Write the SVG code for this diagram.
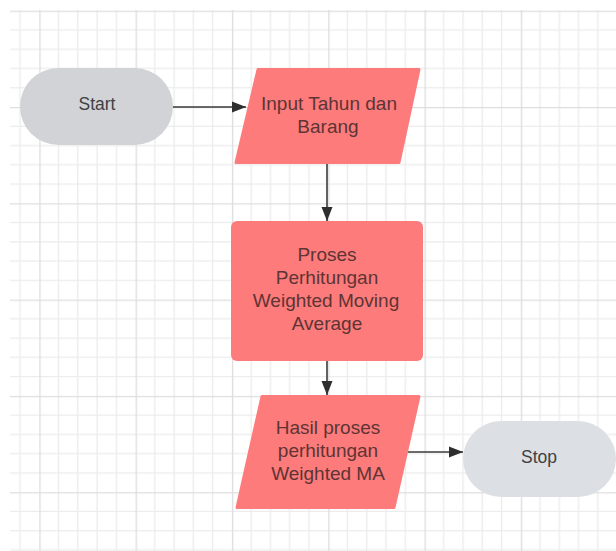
<svg xmlns="http://www.w3.org/2000/svg" width="616" height="551" viewBox="0 0 616 551">
  <defs>
    <pattern id="grid" patternUnits="userSpaceOnUse" x="39.3" y="10.7" width="96.3" height="96.3">
      <path d="M19.26,0V96.3M38.52,0V96.3M57.78,0V96.3M77.04,0V96.3M0,19.26H96.3M0,38.52H96.3M0,57.78H96.3M0,77.04H96.3" stroke="#ececec" stroke-width="1.3" fill="none"/>
      <path d="M0.6,0V96.3M0,0.6H96.3" stroke="#dedede" stroke-width="1.5" fill="none"/>
    </pattern>
    <marker id="arrow" markerUnits="userSpaceOnUse" markerWidth="14" markerHeight="12" refX="14" refY="6" orient="auto">
      <path d="M0,0.5 L14,6 L0,11.5 Z" fill="#2e2e2e"/>
    </marker>
    <style>
      .pill { stroke: none; }
      .red { fill: #fd7b7b; stroke: #fd7b7b; stroke-width: 3; stroke-linejoin: round; }
      .lbl { font-family: "Liberation Sans", Arial, sans-serif; text-anchor: middle; }
      .gray-t { fill: #3f4144; font-size: 17.5px; }
      .red-t { fill: #5e3434; font-size: 19px; }
      .conn { stroke: #3a3a3a; stroke-width: 1.6; fill: none; marker-end: url(#arrow); }
    </style>
  </defs>
  <rect width="616" height="551" fill="#ffffff"/>
  <rect x="10" y="10" width="606" height="541" fill="url(#grid)"/>

  <g id="connectors">
    <path class="conn" d="M173,107 H246"/>
    <path class="conn" d="M327,164 V221"/>
    <path class="conn" d="M327,361 V395"/>
    <path class="conn" d="M408,452 H463"/>
  </g>

  <g id="start">
    <rect class="pill" x="20" y="68" width="153" height="77" rx="38.5" fill="#d1d3d6"/>
    <text class="lbl gray-t" x="97" y="110">Start</text>
  </g>

  <g id="input">
    <path class="red" d="M258,69.5 H419 L399,162.5 H236 Z"/>
    <text class="lbl red-t" x="329" y="110">Input Tahun dan</text>
    <text class="lbl red-t" x="328" y="133">Barang</text>
  </g>

  <g id="process">
    <rect x="231" y="221" width="192" height="140" rx="6" fill="#fd7b7b"/>
    <text class="lbl red-t" x="327" y="261">Proses</text>
    <text class="lbl red-t" x="327" y="284">Perhitungan</text>
    <text class="lbl red-t" x="326" y="307">Weighted Moving</text>
    <text class="lbl red-t" x="327" y="330">Average</text>
  </g>

  <g id="output">
    <path class="red" d="M262,396.5 H419 L394,507.5 H237 Z"/>
    <text class="lbl red-t" x="328" y="434">Hasil proses</text>
    <text class="lbl red-t" x="328" y="457">perhitungan</text>
    <text class="lbl red-t" x="328" y="480">Weighted MA</text>
  </g>

  <g id="stop">
    <rect class="pill" x="463" y="421" width="153" height="76" rx="38" fill="#dcdfe3"/>
    <text class="lbl gray-t" x="539" y="463">Stop</text>
  </g>
</svg>
